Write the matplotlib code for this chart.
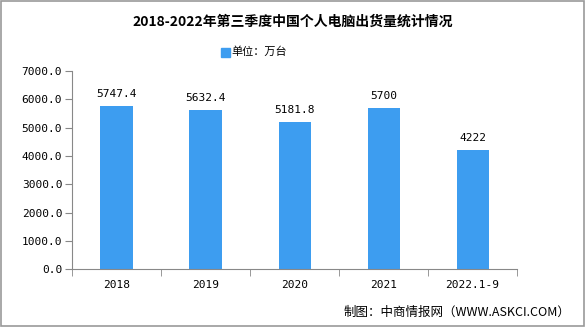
import matplotlib.pyplot as plt
from matplotlib.patches import Rectangle
import numpy as np

plt.rcParams['font.family'] = ['Noto Sans CJK SC', 'DejaVu Sans']

years = ['2018', '2019', '2020', '2021', '2022.1-9']
shipments = [5747.4, 5632.4, 5181.8, 5700, 4222]
value_labels = ['5747.4', '5632.4', '5181.8', '5700', '4222']
yticks = [0, 1000, 2000, 3000, 4000, 5000, 6000, 7000]

bar_color = '#3d9df0'
axis_color = '#888888'
num_font = ['DejaVu Sans Mono']

fig = plt.figure(figsize=(5.85, 3.27), dpi=100)
ax = fig.add_axes([0.123, 0.177, 0.761, 0.606])

x = np.arange(len(years))
ax.bar(x, shipments, width=0.36, color=bar_color, zorder=2)
for xi, v, lab in zip(x, shipments, value_labels):
    ax.text(xi, v + 250, lab, ha='center', va='bottom', fontsize=8, family=num_font)

ax.set_xlim(-0.5, len(years) - 0.5)
ax.set_ylim(0, 7000)
ax.set_yticks(yticks)
ax.set_yticklabels([f'{t:.1f}' for t in yticks], fontsize=8, family=num_font)
ax.set_xticks(x)
ax.set_xticklabels(years, fontsize=8, family=num_font)
ax.set_xticks(np.arange(-0.5, len(years)), minor=True)
ax.tick_params(axis='x', which='major', length=0, pad=8)
ax.tick_params(axis='x', which='minor', length=5, color=axis_color)
ax.tick_params(axis='y', length=5, color=axis_color, pad=2)

for side in ['top', 'right']:
    ax.spines[side].set_visible(False)
for side in ['left', 'bottom']:
    ax.spines[side].set_color(axis_color)

fig.text(0.5, 0.935, '2018-2022年第三季度中国个人电脑出货量统计情况',
         ha='center', va='center', fontsize=10, fontweight='bold')

# legend: blue square plus unit text
fig.patches.append(Rectangle((0.378, 0.826), 0.015, 0.028, transform=fig.transFigure,
                             color=bar_color))
fig.text(0.395, 0.842, '单位：万台', ha='left', va='center', fontsize=8)

fig.text(0.975, 0.045, '制图：中商情报网（WWW.ASKCI.COM）', ha='right', va='center', fontsize=9)

# frame around the whole figure
fig.patches.append(Rectangle((0.001, 0.002), 0.997, 0.995, transform=fig.transFigure,
                             fill=False, edgecolor='#999999', linewidth=1.2))

fig.savefig('out.png', dpi=100)
